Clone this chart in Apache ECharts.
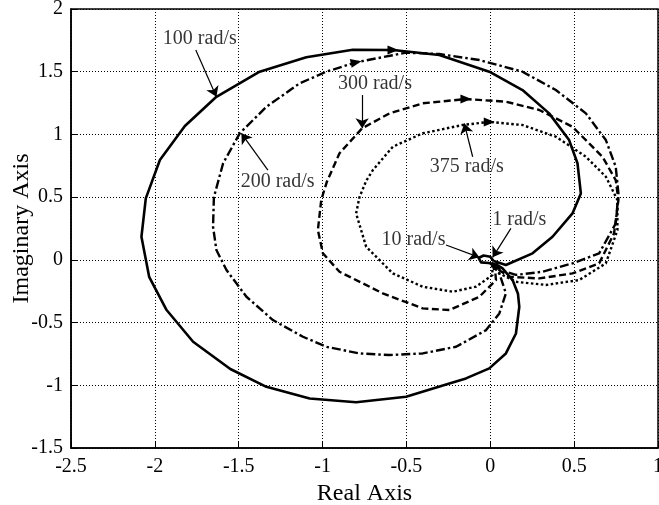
<!DOCTYPE html>
<html>
<head>
<meta charset="utf-8">
<script src="https://cdn.jsdelivr.net/npm/echarts@6/dist/echarts.min.js"></script>
<style>
  html, body { margin: 0; padding: 0; background: #fff; }
  #chart { width: 659px; height: 505px; }
</style>
</head>
<body>
<div id="chart"></div>
<script>
// Nyquist-style loci of the frequency response, one per operating speed
const FONT = "'Liberation Serif', 'Times New Roman', serif";

// axis ranges and tick spacing
const xRange = [-2.5, 1];
const yRange = [-1.5, 2];
const tickStep = 0.5;

// curve at 100 rad/s (solid)
const curve100 = [
  [0.02, -0.01], [0.0, 0.025], [-0.04, 0.035], [-0.07, 0.015], [-0.055, -0.02], [-0.01, -0.025],
  [0.04, -0.04], [0.073, -0.068], [0.133, -0.161], [0.165, -0.27], [0.173, -0.374],
  [0.153, -0.587], [0.093, -0.746], [-0.006, -0.865], [-0.145, -0.945], [-0.244, -0.985],
  [-0.502, -1.092], [-0.80, -1.135], [-1.077, -1.105], [-1.335, -1.012], [-1.55, -0.87],
  [-1.772, -0.653], [-1.93, -0.40], [-2.034, -0.135], [-2.08, 0.184], [-2.054, 0.49],
  [-1.97, 0.796], [-1.821, 1.067], [-1.633, 1.30], [-1.375, 1.50], [-1.097, 1.615],
  [-0.82, 1.675], [-0.58, 1.673], [-0.304, 1.633], [-0.006, 1.50], [0.192, 1.354],
  [0.351, 1.168], [0.470, 0.955], [0.52, 0.77], [0.54, 0.53], [0.49, 0.37],
  [0.371, 0.184], [0.252, 0.052], [0.093, -0.041], [0.02, -0.01]
];

// curve at 200 rad/s (dash-dot)
const curve200 = [
  [0.01, -0.02], [0.03, -0.06], [0.054, -0.108], [0.093, -0.267], [0.054, -0.427], [-0.025, -0.56],
  [-0.204, -0.693], [-0.403, -0.746], [-0.601, -0.759], [-0.78, -0.746], [-0.978, -0.693],
  [-1.117, -0.613], [-1.296, -0.48], [-1.454, -0.294], [-1.573, -0.081], [-1.633, 0.078],
  [-1.653, 0.264], [-1.648, 0.50], [-1.593, 0.77], [-1.494, 1.009], [-1.335, 1.22],
  [-1.137, 1.407], [-0.978, 1.50], [-0.80, 1.575], [-0.502, 1.652], [-0.304, 1.641],
  [-0.065, 1.593], [0.192, 1.50], [0.391, 1.354], [0.57, 1.168], [0.689, 0.955],
  [0.748, 0.742], [0.764, 0.53], [0.748, 0.29], [0.649, 0.052], [0.49, -0.028],
  [0.311, -0.095], [0.153, -0.12], [0.06, -0.08], [0.01, -0.02]
];

// curve at 300 rad/s (dashed)
const curve300 = [
  [0.01, -0.03], [0.03, -0.1], [0.034, -0.161], [-0.065, -0.294], [-0.244, -0.40], [-0.403, -0.387],
  [-0.641, -0.267], [-0.899, -0.095], [-0.998, 0.052], [-1.028, 0.237], [-1.008, 0.477],
  [-0.975, 0.62], [-0.899, 0.85], [-0.764, 1.049], [-0.601, 1.168], [-0.403, 1.248],
  [-0.145, 1.282], [0.093, 1.261], [0.292, 1.195], [0.49, 1.061], [0.669, 0.822],
  [0.748, 0.636], [0.764, 0.477], [0.738, 0.211], [0.649, -0.028], [0.49, -0.108],
  [0.292, -0.148], [0.113, -0.135], [0.04, -0.07], [0.01, -0.03]
];

// curve at 375 rad/s (dotted)
const curve375 = [
  [0.01, -0.04], [0.014, -0.12], [-0.085, -0.214], [-0.224, -0.254], [-0.403, -0.214],
  [-0.581, -0.108], [-0.74, 0.104], [-0.80, 0.37], [-0.78, 0.50], [-0.74, 0.63],
  [-0.70, 0.716], [-0.581, 0.902], [-0.403, 1.009], [-0.165, 1.075], [-0.006, 1.10],
  [0.192, 1.075], [0.391, 0.982], [0.57, 0.822], [0.689, 0.663], [0.758, 0.477],
  [0.758, 0.237], [0.689, -0.028], [0.53, -0.161], [0.331, -0.20], [0.153, -0.175],
  [0.054, -0.108], [0.01, -0.04]
];

// direction-of-travel arrowheads on each locus: [x, y, rotation]
const dir100 = [-0.58, 1.673, -90];
const dir200 = [-0.80, 1.575, -78];
const dir300 = [-0.145, 1.282, -90];
const dir375 = [-0.006, 1.10, -90];

// callouts: text, text centre, arrow tail, arrow head
const noteText = ['100 rad/s', '200 rad/s', '300 rad/s', '375 rad/s', '1 rad/s', '10 rad/s'];
const notePos = [[-1.732, 1.761], [-1.268, 0.62], [-0.6875, 1.402], [-0.140, 0.74], [0.173, 0.317], [-0.458, 0.158]];
const arrowFrom = [[-1.756, 1.673], [-1.326, 0.716], [-0.764, 1.314], [-0.105, 0.822], [0.123, 0.251], [-0.264, 0.118]];
const arrowTo = [[-1.633, 1.30], [-1.484, 1.009], [-0.764, 1.049], [-0.155, 1.088], [0.014, 0.02], [-0.065, 0.02]];

function locus(name, data, dash, width, dir) {
  return {
    name: name,
    type: 'line',
    data: data,
    showSymbol: false,
    symbol: 'none',
    smooth: false,
    lineStyle: { color: '#000', width: width, type: dash, cap: 'butt', join: 'round' },
    emphasis: { disabled: true },
    markPoint: {
      symbol: 'triangle',
      symbolSize: [9, 11],
      silent: true,
      label: { show: false },
      itemStyle: { color: '#000' },
      data: [{ coord: [dir[0], dir[1]], symbolRotate: dir[2] }]
    },
    z: 3
  };
}

const chart = echarts.init(document.getElementById('chart'), null, { renderer: 'canvas' });

const axisLabelStyle = { color: '#000', fontFamily: FONT, fontSize: 20 };
const gridLine = { show: true, lineStyle: { color: '#000', width: 1, type: [1, 2] } };

chart.setOption({
  animation: false,
  backgroundColor: '#fff',
  grid: {
    left: 71, right: 1, top: 9, bottom: 57,
    containLabel: false,
    outerBoundsMode: 'none',
    show: true, borderColor: '#000', borderWidth: 1.5, backgroundColor: 'transparent'
  },
  xAxis: {
    type: 'value',
    min: xRange[0], max: xRange[1], interval: tickStep,
    name: 'Real Axis',
    nameLocation: 'middle',
    nameGap: 31,
    nameTextStyle: { color: '#000', fontFamily: FONT, fontSize: 24 },
    axisLine: { show: true, onZero: false, lineStyle: { color: '#000', width: 1.5 } },
    axisTick: { show: true, inside: true, length: 7, lineStyle: { color: '#000' } },
    axisLabel: Object.assign({ margin: 9, hideOverlap: false }, axisLabelStyle),
    splitLine: gridLine
  },
  yAxis: {
    type: 'value',
    min: yRange[0], max: yRange[1], interval: tickStep,
    name: 'Imaginary Axis',
    nameLocation: 'middle',
    nameMoveOverlap: false,
    nameGap: 37,
    nameTextStyle: { color: '#000', fontFamily: FONT, fontSize: 24 },
    axisLine: { show: true, onZero: false, lineStyle: { color: '#000', width: 1.5 } },
    axisTick: { show: true, inside: true, length: 7, lineStyle: { color: '#000' } },
    axisLabel: Object.assign({ margin: 8, hideOverlap: false }, axisLabelStyle),
    splitLine: gridLine
  },
  series: [
    locus('100 rad/s', curve100, 'solid', 2.6, dir100),
    locus('200 rad/s', curve200, [9, 3, 2.5, 3], 2.4, dir200),
    locus('300 rad/s', curve300, [7, 3.5], 2.4, dir300),
    locus('375 rad/s', curve375, [2.5, 2.5], 2.4, dir375),
    {
      name: 'callout arrows',
      type: 'line',
      data: [],
      markLine: {
        silent: true,
        symbol: ['none', 'arrow'],
        symbolSize: 10,
        label: { show: false },
        lineStyle: { color: '#000', width: 1.2, type: 'solid' },
        data: arrowFrom.map((p, i) => [{ coord: p }, { coord: arrowTo[i] }])
      },
      z: 4
    },
    {
      name: 'callout text',
      type: 'scatter',
      symbolSize: 1,
      itemStyle: { color: 'rgba(0,0,0,0)' },
      silent: true,
      data: notePos.map((p, i) => [p[0], p[1], noteText[i]]),
      label: {
        show: true,
        position: 'inside',
        formatter: (d) => d.value[2],
        color: '#000',
        fontFamily: FONT,
        fontSize: 20
      },
      z: 5
    }
  ]
});
</script>
</body>
</html>
